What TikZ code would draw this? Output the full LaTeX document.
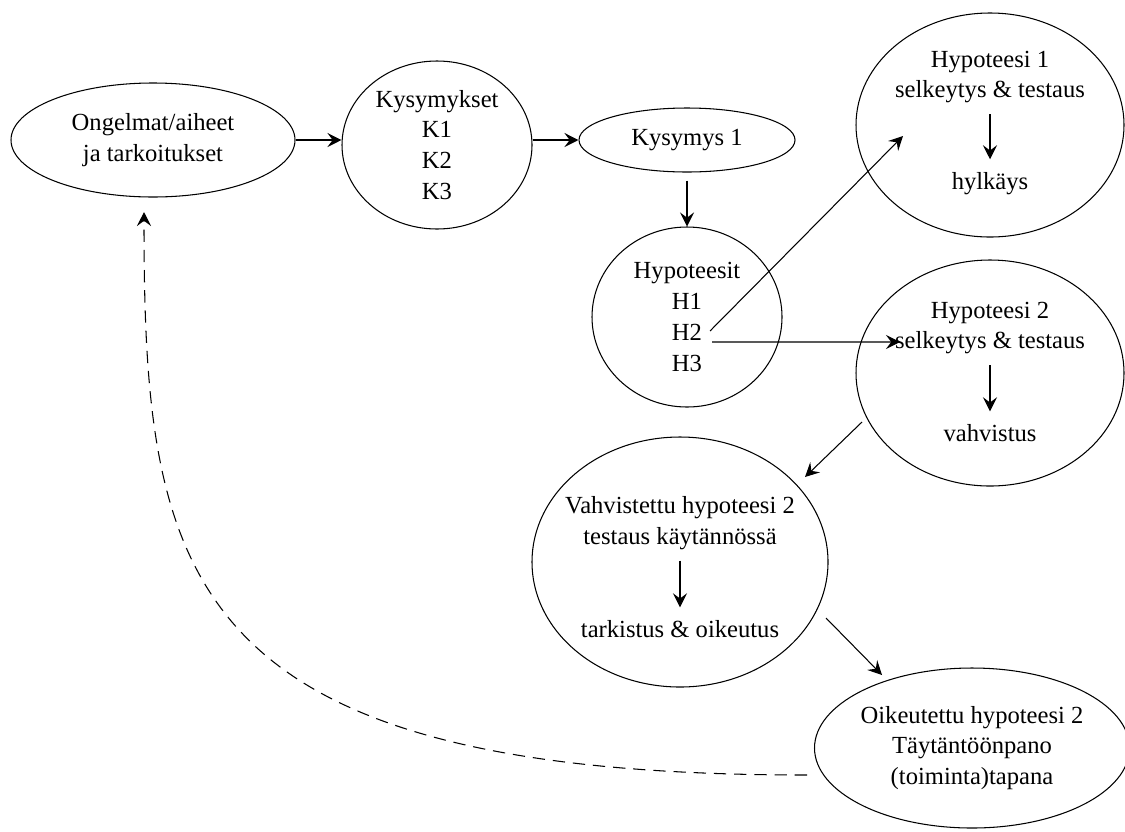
\documentclass[tikz,border=0pt]{standalone}
\usepackage{fontspec}
\setmainfont{Liberation Serif}
\usepackage{tikz}
\usetikzlibrary{shapes.geometric, arrows.meta, positioning, calc}
\newcommand{\bubblefont}{\fontsize{14pt}{17.6pt}\selectfont}
\tikzset{
  bubble/.style={ellipse, draw, line width=0.6pt, inner sep=0pt, align=center, font=\bubblefont},
  txt/.style={align=center, inner sep=0pt, font=\bubblefont},
  arr/.style={-{Stealth[length=8pt, width=8pt, inset=3pt]}, line width=0.6pt},
  inarr/.style={arr, shorten <=6pt, shorten >=7.5pt},
  backarr/.style={arr, dash pattern=on 7pt off 4.5pt},
}

\begin{document}
\begin{tikzpicture}
  \useasboundingbox (0,0) rectangle (22.5,-16.62);

  % Problem and questions
  \node[bubble, minimum width=5.68cm, minimum height=2.28cm] (ong) at (3.06,-2.80) {Ongelmat/aiheet\\ja tarkoitukset};
  \node[bubble, minimum width=3.8cm, minimum height=3.36cm] (kys) at (8.74,-2.90) {Kysymykset\\K1\\K2\\K3};
  \node[bubble, minimum width=4.32cm, minimum height=1.28cm] (ky1) at (13.74,-2.80) {Kysymys 1};
  \node[bubble, minimum width=3.8cm, minimum height=3.6cm] (hyps) at (13.74,-6.34) {Hypoteesit\\H1\\H2\\H3};

  % Hypothesis 1
  \node[bubble, minimum width=5.36cm, minimum height=4.48cm] (hyp1) at (19.80,-2.50) {};
  \node[txt] (hyp1a) at ([yshift=0.96cm]hyp1.center) {Hypoteesi 1\\selkeytys \& testaus};
  \node[txt] (hyp1b) at ([yshift=-1.18cm]hyp1.center) {hylkäys};

  % Hypothesis 2
  \node[bubble, minimum width=5.36cm, minimum height=4.52cm] (hyp2) at (19.80,-7.46) {};
  \node[txt] (hyp2a) at ([yshift=0.90cm]hyp2.center) {Hypoteesi 2\\selkeytys \& testaus};
  \node[txt] (hyp2b) at ([yshift=-1.21cm]hyp2.center) {vahvistus};

  % Practice
  \node[bubble, minimum width=5.92cm, minimum height=5.0cm] (vah) at (13.60,-11.24) {};
  \node[txt] (vaha) at ([yshift=0.78cm]vah.center) {Vahvistettu hypoteesi 2\\testaus käytännössä};
  \node[txt] (vahb) at ([yshift=-1.35cm]vah.center) {tarkistus \& oikeutus};
  \node[bubble, minimum width=6.16cm, minimum height=3.2cm] (oik) at (19.44,-14.96) {Oikeutettu hypoteesi 2\\Täytäntöönpano\\(toiminta)tapana};

  % Arrows
  \draw[arr] (ong.east) -- (ong.east -| kys.west);
  \draw[arr] (kys.east |- ky1.west) -- (ky1.west);
  \draw[arr] ([yshift=-0.16cm]ky1.south) -- (hyps.north);
  \draw[arr] ([shift={(0.46,-0.28)}]hyps.center) -- ([shift={(-1.74,-0.22)}]hyp1.center);
  \draw[arr] ([shift={(0.50,-0.50)}]hyps.center) -- ([shift={(-1.80,0.62)}]hyp2.center);
  \draw[inarr] (hyp1a.south) -- (hyp1b.north);
  \draw[inarr] (hyp2a.south) -- (hyp2b.north);
  \draw[arr] ([shift={(-2.56,-0.98)}]hyp2.center) -- ([shift={(2.50,1.70)}]vah.center);
  \draw[inarr] (vaha.south) -- (vahb.north);
  \draw[arr] ([shift={(2.92,-1.12)}]vah.center) -- ([shift={(-1.80,1.46)}]oik.center);
  \draw[backarr] ([shift={(-3.30,-0.54)}]oik.center) .. controls +(-12.56,0) and +(0,-7.28) .. ([shift={(-0.18,-1.44)}]ong.center);
\end{tikzpicture}
\end{document}
